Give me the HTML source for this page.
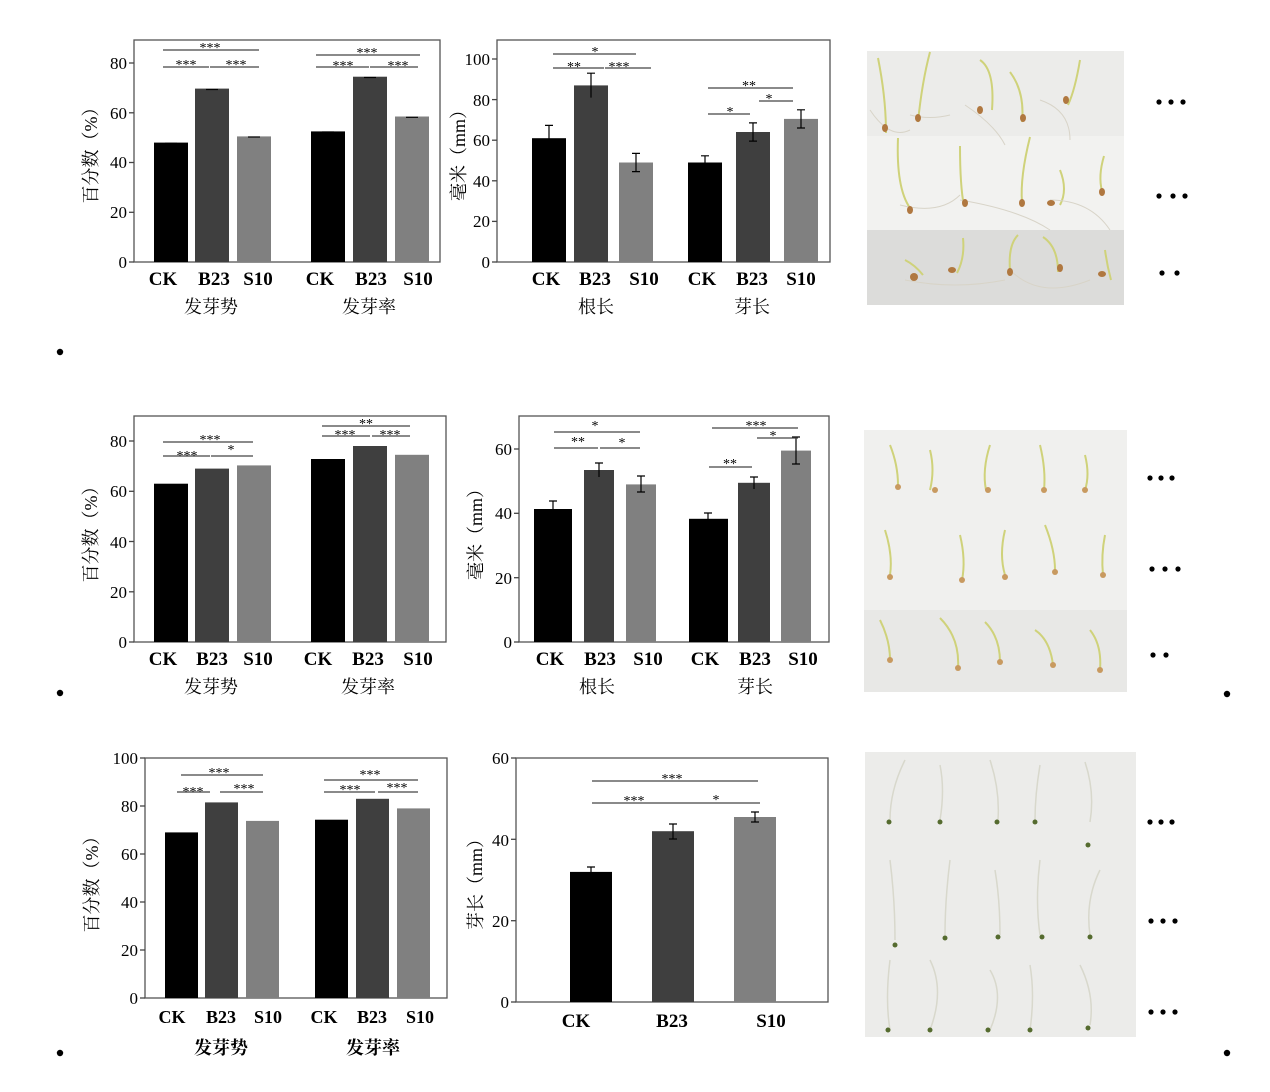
<!DOCTYPE html>
<html><head><meta charset="utf-8"><style>
html,body{margin:0;padding:0;background:#fff;}
svg{display:block}
text{font-family:"Liberation Serif","Noto Serif CJK SC",serif;fill:#000}
.t{font-size:17px;text-anchor:end}
.c{font-size:19px;font-weight:bold;text-anchor:middle}
.g{font-size:18px;text-anchor:middle}
.s{font-size:14px;text-anchor:middle}
.yl{font-size:18px;text-anchor:middle}
.ax{fill:none;stroke:#555;stroke-width:1.3}
.sig{stroke:#444;stroke-width:1.3}
.err{stroke:#000;stroke-width:1.2;fill:none}
.sd{stroke:#cfd27a;stroke-width:2;fill:none}
.rt{stroke:#d8d4c8;stroke-width:1;fill:none}
.dot{font-size:22px;font-family:"Liberation Sans",sans-serif;font-weight:bold}
</style></head><body>
<svg width="1270" height="1092" viewBox="0 0 1270 1092" xmlns="http://www.w3.org/2000/svg">

<!-- ===== Chart 1 ===== -->
<rect class="ax" x="134" y="40" width="306" height="222"/>
<g class="sig">
<line x1="134" y1="262" x2="129" y2="262"/><line x1="134" y1="212.3" x2="129" y2="212.3"/><line x1="134" y1="162.5" x2="129" y2="162.5"/><line x1="134" y1="112.8" x2="129" y2="112.8"/><line x1="134" y1="63" x2="129" y2="63"/>
</g>
<text class="t" x="127" y="268">0</text><text class="t" x="127" y="218">20</text><text class="t" x="127" y="168">40</text><text class="t" x="127" y="119">60</text><text class="t" x="127" y="69">80</text>
<rect x="154" y="142.6" width="34" height="119.4" fill="#000"/>
<rect x="195" y="88.6" width="34" height="173.4" fill="#3f3f3f"/>
<rect x="237" y="136.4" width="34" height="125.6" fill="#808080"/>
<rect x="311" y="131.4" width="34" height="130.6" fill="#000"/>
<rect x="353" y="76.7" width="34" height="185.3" fill="#3f3f3f"/>
<rect x="395" y="116.5" width="34" height="145.5" fill="#808080"/>
<g class="err"><line x1="206" y1="89.5" x2="218" y2="89.5"/><line x1="364" y1="77.5" x2="376" y2="77.5"/><line x1="406" y1="117.3" x2="418" y2="117.3"/><line x1="165" y1="143.3" x2="177" y2="143.3"/><line x1="248" y1="137" x2="260" y2="137"/><line x1="322" y1="132" x2="334" y2="132"/></g>
<g class="sig"><line x1="163" y1="50" x2="259" y2="50"/><line x1="163" y1="67" x2="209" y2="67"/><line x1="210" y1="67" x2="259" y2="67"/>
<line x1="316" y1="55" x2="420" y2="55"/><line x1="316" y1="67" x2="369" y2="67"/><line x1="370" y1="67" x2="418" y2="67"/></g>
<text class="s" x="210" y="52">***</text><text class="s" x="186" y="69">***</text><text class="s" x="236" y="69">***</text>
<text class="s" x="367" y="57">***</text><text class="s" x="343" y="70">***</text><text class="s" x="398" y="70">***</text>
<text class="c" x="163" y="285">CK</text><text class="c" x="214" y="285">B23</text><text class="c" x="258" y="285">S10</text>
<text class="c" x="320" y="285">CK</text><text class="c" x="371" y="285">B23</text><text class="c" x="418" y="285">S10</text>
<text class="g" x="211" y="313">发芽势</text><text class="g" x="369" y="313">发芽率</text>
<text class="yl" transform="translate(97,151) rotate(-90)">百分数（%）</text>

<!-- ===== Chart 2 ===== -->
<rect class="ax" x="497" y="40" width="333" height="222"/>
<g class="sig"><line x1="497" y1="262" x2="492" y2="262"/><line x1="497" y1="221.4" x2="492" y2="221.4"/><line x1="497" y1="180.8" x2="492" y2="180.8"/><line x1="497" y1="140.2" x2="492" y2="140.2"/><line x1="497" y1="99.6" x2="492" y2="99.6"/><line x1="497" y1="59" x2="492" y2="59"/></g>
<text class="t" x="490" y="268">0</text><text class="t" x="490" y="227">20</text><text class="t" x="490" y="187">40</text><text class="t" x="490" y="146">60</text><text class="t" x="490" y="106">80</text><text class="t" x="490" y="65">100</text>
<rect x="532" y="138.2" width="34" height="123.8" fill="#000"/>
<rect x="574" y="85.4" width="34" height="176.6" fill="#3f3f3f"/>
<rect x="619" y="162.5" width="34" height="99.5" fill="#808080"/>
<rect x="688" y="162.5" width="34" height="99.5" fill="#000"/>
<rect x="736" y="132" width="34" height="130" fill="#3f3f3f"/>
<rect x="784" y="118.9" width="34" height="143.1" fill="#808080"/>
<g class="err">
<path d="M549 125.4V151M545 125.4h8"/><path d="M591 73.2V97.6M587 73.2h8"/><path d="M636 153.4V171.6M632 153.4h8M632 171.6h8"/>
<path d="M705 155.8V162.5M701 155.8h8"/><path d="M753 122.9V141.1M749 122.9h8M749 141.1h8"/><path d="M801 109.8V128M797 109.8h8M797 128h8"/></g>
<g class="sig"><line x1="553" y1="54" x2="636" y2="54"/><line x1="553" y1="68" x2="604" y2="68"/><line x1="605" y1="68" x2="651" y2="68"/>
<line x1="708" y1="88" x2="793" y2="88"/><line x1="759" y1="101" x2="793" y2="101"/><line x1="708" y1="114" x2="750" y2="114"/></g>
<text class="s" x="595" y="56">*</text><text class="s" x="574" y="71">**</text><text class="s" x="619" y="71">***</text>
<text class="s" x="749" y="90">**</text><text class="s" x="769" y="103">*</text><text class="s" x="730" y="116">*</text>
<text class="c" x="546" y="285">CK</text><text class="c" x="595" y="285">B23</text><text class="c" x="644" y="285">S10</text>
<text class="c" x="702" y="285">CK</text><text class="c" x="752" y="285">B23</text><text class="c" x="801" y="285">S10</text>
<text class="g" x="596" y="313">根长</text><text class="g" x="752" y="313">芽长</text>
<text class="yl" transform="translate(465,151) rotate(-90)">毫米（mm）</text>

<!-- ===== Chart 3 ===== -->
<rect class="ax" x="134" y="416" width="312" height="226"/>
<g class="sig"><line x1="134" y1="642" x2="129" y2="642"/><line x1="134" y1="591.8" x2="129" y2="591.8"/><line x1="134" y1="541.5" x2="129" y2="541.5"/><line x1="134" y1="491.3" x2="129" y2="491.3"/><line x1="134" y1="441" x2="129" y2="441"/></g>
<text class="t" x="127" y="648">0</text><text class="t" x="127" y="598">20</text><text class="t" x="127" y="548">40</text><text class="t" x="127" y="497">60</text><text class="t" x="127" y="447">80</text>
<rect x="154" y="483.7" width="34" height="158.3" fill="#000"/>
<rect x="195" y="468.6" width="34" height="173.4" fill="#3f3f3f"/>
<rect x="237" y="465.4" width="34" height="176.6" fill="#808080"/>
<rect x="311" y="459" width="34" height="183" fill="#000"/>
<rect x="353" y="446" width="34" height="196" fill="#3f3f3f"/>
<rect x="395" y="454.8" width="34" height="187.2" fill="#808080"/>
<g class="sig"><line x1="163" y1="442" x2="253" y2="442"/><line x1="163" y1="456" x2="210" y2="456"/><line x1="211" y1="456" x2="253" y2="456"/>
<line x1="322" y1="426" x2="410" y2="426"/><line x1="322" y1="436" x2="370" y2="436"/><line x1="372" y1="436" x2="410" y2="436"/></g>
<text class="s" x="210" y="444">***</text><text class="s" x="187" y="460">***</text><text class="s" x="231" y="454">*</text>
<text class="s" x="366" y="428">**</text><text class="s" x="345" y="439">***</text><text class="s" x="390" y="439">***</text>
<text class="c" x="163" y="665">CK</text><text class="c" x="212" y="665">B23</text><text class="c" x="258" y="665">S10</text>
<text class="c" x="318" y="665">CK</text><text class="c" x="368" y="665">B23</text><text class="c" x="418" y="665">S10</text>
<text class="g" x="211" y="693">发芽势</text><text class="g" x="368" y="693">发芽率</text>
<text class="yl" transform="translate(97,530) rotate(-90)">百分数（%）</text>

<!-- ===== Chart 4 ===== -->
<rect class="ax" x="519" y="416" width="310" height="226"/>
<g class="sig"><line x1="519" y1="642" x2="514" y2="642"/><line x1="519" y1="577.7" x2="514" y2="577.7"/><line x1="519" y1="513.3" x2="514" y2="513.3"/><line x1="519" y1="449" x2="514" y2="449"/></g>
<text class="t" x="512" y="648">0</text><text class="t" x="512" y="584">20</text><text class="t" x="512" y="519">40</text><text class="t" x="512" y="455">60</text>
<rect x="534" y="509" width="38" height="133" fill="#000"/>
<rect x="584" y="470" width="30" height="172" fill="#3f3f3f"/>
<rect x="626" y="484.4" width="30" height="157.6" fill="#808080"/>
<rect x="689" y="518.8" width="39" height="123.2" fill="#000"/>
<rect x="738" y="482.8" width="32" height="159.2" fill="#3f3f3f"/>
<rect x="781" y="450.6" width="30" height="191.4" fill="#808080"/>
<g class="err"><path d="M553 501V517M549 501h8"/><path d="M599 463V477M595 463h8"/><path d="M641 476V492M637 476h8M637 492h8"/><path d="M708 513V525M704 513h8"/><path d="M754 477V489M750 477h8"/><path d="M796 437V464M792 437h8M792 464h8"/></g>
<g class="sig"><line x1="554" y1="432" x2="640" y2="432"/><line x1="554" y1="448" x2="598" y2="448"/><line x1="600" y1="448" x2="640" y2="448"/>
<line x1="712" y1="428" x2="798" y2="428"/><line x1="757" y1="438" x2="798" y2="438"/><line x1="709" y1="467" x2="752" y2="467"/></g>
<text class="s" x="595" y="430">*</text><text class="s" x="578" y="446">**</text><text class="s" x="622" y="447">*</text>
<text class="s" x="756" y="430">***</text><text class="s" x="773" y="440">*</text><text class="s" x="730" y="468">**</text>
<text class="c" x="550" y="665">CK</text><text class="c" x="600" y="665">B23</text><text class="c" x="648" y="665">S10</text>
<text class="c" x="705" y="665">CK</text><text class="c" x="755" y="665">B23</text><text class="c" x="803" y="665">S10</text>
<text class="g" x="597" y="693">根长</text><text class="g" x="755" y="693">芽长</text>
<text class="yl" transform="translate(482,530) rotate(-90)">毫米（mm）</text>

<!-- ===== Chart 5 ===== -->
<rect class="ax" x="145" y="758" width="302" height="240"/>
<g class="sig"><line x1="145" y1="998" x2="140" y2="998"/><line x1="145" y1="950" x2="140" y2="950"/><line x1="145" y1="902" x2="140" y2="902"/><line x1="145" y1="854" x2="140" y2="854"/><line x1="145" y1="806" x2="140" y2="806"/><line x1="145" y1="758" x2="140" y2="758"/></g>
<text class="t" x="138" y="1004">0</text><text class="t" x="138" y="956">20</text><text class="t" x="138" y="908">40</text><text class="t" x="138" y="860">60</text><text class="t" x="138" y="812">80</text><text class="t" x="138" y="764">100</text>
<rect x="165" y="832.4" width="33" height="165.6" fill="#000"/>
<rect x="205" y="802.4" width="33" height="195.6" fill="#3f3f3f"/>
<rect x="246" y="820.9" width="33" height="177.1" fill="#808080"/>
<rect x="315" y="819.7" width="33" height="178.3" fill="#000"/>
<rect x="356" y="798.8" width="33" height="199.2" fill="#3f3f3f"/>
<rect x="397" y="808.4" width="33" height="189.6" fill="#808080"/>
<g class="sig"><line x1="181" y1="775" x2="263" y2="775"/><line x1="177" y1="792" x2="210" y2="792"/><line x1="220" y1="792" x2="263" y2="792"/>
<line x1="324" y1="780" x2="418" y2="780"/><line x1="324" y1="792" x2="375" y2="792"/><line x1="378" y1="792" x2="418" y2="792"/></g>
<text class="s" x="219" y="777">***</text><text class="s" x="193" y="796">***</text><text class="s" x="244" y="793">***</text>
<text class="s" x="370" y="779">***</text><text class="s" x="350" y="794">***</text><text class="s" x="397" y="792">***</text>
<text class="c" x="172" y="1023" style="font-size:18px">CK</text><text class="c" x="221" y="1023" style="font-size:18px">B23</text><text class="c" x="268" y="1023" style="font-size:18px">S10</text>
<text class="c" x="324" y="1023" style="font-size:18px">CK</text><text class="c" x="372" y="1023" style="font-size:18px">B23</text><text class="c" x="420" y="1023" style="font-size:18px">S10</text>
<text class="g" x="221" y="1054" style="font-weight:bold">发芽势</text><text class="g" x="373" y="1054" style="font-weight:bold">发芽率</text>
<text class="yl" transform="translate(98,880) rotate(-90)">百分数（%）</text>

<!-- ===== Chart 6 ===== -->
<rect class="ax" x="516" y="758" width="312" height="244"/>
<g class="sig"><line x1="516" y1="1002" x2="511" y2="1002"/><line x1="516" y1="920.7" x2="511" y2="920.7"/><line x1="516" y1="839.3" x2="511" y2="839.3"/><line x1="516" y1="758" x2="511" y2="758"/></g>
<text class="t" x="509" y="1008">0</text><text class="t" x="509" y="927">20</text><text class="t" x="509" y="846">40</text><text class="t" x="509" y="764">60</text>
<rect x="570" y="871.9" width="42" height="130.1" fill="#000"/>
<rect x="652" y="831.2" width="42" height="170.8" fill="#3f3f3f"/>
<rect x="734" y="817" width="42" height="185" fill="#808080"/>
<g class="err"><path d="M591 867V874M587 867h8"/><path d="M673 824V839M669 824h8M669 839h8"/><path d="M755 812V822M751 812h8M751 822h8"/></g>
<g class="sig"><line x1="592" y1="781" x2="758" y2="781"/><line x1="592" y1="803" x2="674" y2="803"/><line x1="674" y1="803" x2="760" y2="803"/></g>
<text class="s" x="672" y="783">***</text><text class="s" x="634" y="805">***</text><text class="s" x="716" y="804">*</text>
<text class="c" x="576" y="1027">CK</text><text class="c" x="672" y="1027">B23</text><text class="c" x="771" y="1027">S10</text>
<text class="yl" transform="translate(482,880) rotate(-90)">芽长（mm）</text>

<!-- ===== Photos ===== -->
<rect x="867" y="51" width="257" height="85" fill="#ececea"/>
<rect x="867" y="136" width="257" height="94" fill="#f2f2f0"/>
<rect x="867" y="230" width="257" height="75" fill="#dcdcda"/>
<g class="sd">
<path d="M878 58q8 40 8 75"/><path d="M930 52q-8 30-12 70"/><path d="M980 60q15 10 12 50"/><path d="M1010 72q15 20 12 50"/><path d="M1080 60q-5 30-12 45"/>
<path d="M898 138q-2 50 12 70"/><path d="M960 146q0 40 4 60"/><path d="M1030 137q-10 40-8 65"/><path d="M1060 170q8 20 0 35"/><path d="M1104 156q-6 20-2 35"/>
<path d="M905 260q10 5 18 15"/><path d="M963 238q2 20-6 35"/><path d="M1018 235q-10 10-8 35"/><path d="M1043 237q15 10 15 35"/><path d="M1105 250q2 15 6 30"/></g>
<g class="rt"><path d="M870 110q20 30 40 20M910 115q20 5 40 0M965 105q30 20 40 40M1040 100q30 10 30 40M900 205q40 10 60 -10M960 200q60 10 90 30M1050 200q40 0 60 30M905 280q50 10 100 0M1010 270q30 30 80 10"/></g>
<g fill="#b07840"><ellipse cx="885" cy="128" rx="3" ry="4"/><ellipse cx="918" cy="118" rx="3" ry="4"/><ellipse cx="980" cy="110" rx="3" ry="4"/><ellipse cx="1023" cy="118" rx="3" ry="4"/><ellipse cx="1066" cy="100" rx="3" ry="4"/>
<ellipse cx="910" cy="210" rx="3" ry="4"/><ellipse cx="965" cy="203" rx="3" ry="4"/><ellipse cx="1022" cy="203" rx="3" ry="4"/><ellipse cx="1051" cy="203" rx="4" ry="3"/><ellipse cx="1102" cy="192" rx="3" ry="4"/>
<ellipse cx="914" cy="277" rx="4" ry="4"/><ellipse cx="952" cy="270" rx="4" ry="3"/><ellipse cx="1010" cy="272" rx="3" ry="4"/><ellipse cx="1060" cy="268" rx="3" ry="4"/><ellipse cx="1102" cy="274" rx="4" ry="3"/></g>

<rect x="864" y="430" width="263" height="180" fill="#f0f0ee"/>
<rect x="864" y="610" width="263" height="82" fill="#e8e8e6"/>
<g class="sd">
<path d="M890 445q8 20 8 40"/><path d="M930 450q5 20 0 40"/><path d="M990 445q-8 25-4 45"/><path d="M1040 445q6 25 4 45"/><path d="M1085 455q5 20 0 35"/>
<path d="M885 530q8 25 5 45"/><path d="M960 535q6 25 2 45"/><path d="M1005 530q-6 25 0 45"/><path d="M1045 525q10 25 10 45"/><path d="M1105 535q-4 20-2 40"/>
<path d="M880 620q10 20 10 40"/><path d="M940 618q20 20 18 50"/><path d="M985 622q15 15 15 40"/><path d="M1035 630q15 10 18 35"/><path d="M1090 630q12 15 10 40"/></g>
<g fill="#c89a60"><circle cx="898" cy="487" r="3"/><circle cx="935" cy="490" r="3"/><circle cx="988" cy="490" r="3"/><circle cx="1044" cy="490" r="3"/><circle cx="1085" cy="490" r="3"/>
<circle cx="890" cy="577" r="3"/><circle cx="962" cy="580" r="3"/><circle cx="1005" cy="577" r="3"/><circle cx="1055" cy="572" r="3"/><circle cx="1103" cy="575" r="3"/>
<circle cx="890" cy="660" r="3"/><circle cx="958" cy="668" r="3"/><circle cx="1000" cy="662" r="3"/><circle cx="1053" cy="665" r="3"/><circle cx="1100" cy="670" r="3"/></g>

<rect x="865" y="752" width="271" height="285" fill="#ececea"/>
<g stroke="#d8d8cc" stroke-width="1.5" fill="none">
<path d="M905 760q-15 30-15 60"/><path d="M940 765q5 25 0 55"/><path d="M990 760q10 30 8 60"/><path d="M1040 765q-5 30-5 55"/><path d="M1085 762q10 30 5 60"/>
<path d="M890 860q5 40 5 80"/><path d="M950 860q-5 40-5 75"/><path d="M995 870q5 30 5 65"/><path d="M1040 860q-5 40 0 75"/><path d="M1100 870q-15 30-10 65"/>
<path d="M890 960q-5 40 0 70"/><path d="M930 960q15 30 0 70"/><path d="M990 970q15 25 0 60"/><path d="M1030 965q5 30 0 65"/><path d="M1080 965q15 30 10 60"/></g>
<g fill="#556b2f"><circle cx="889" cy="822" r="2.5"/><circle cx="940" cy="822" r="2.5"/><circle cx="997" cy="822" r="2.5"/><circle cx="1035" cy="822" r="2.5"/><circle cx="1088" cy="845" r="2.5"/>
<circle cx="895" cy="945" r="2.5"/><circle cx="945" cy="938" r="2.5"/><circle cx="998" cy="937" r="2.5"/><circle cx="1042" cy="937" r="2.5"/><circle cx="1090" cy="937" r="2.5"/>
<circle cx="888" cy="1030" r="2.5"/><circle cx="930" cy="1030" r="2.5"/><circle cx="988" cy="1030" r="2.5"/><circle cx="1030" cy="1030" r="2.5"/><circle cx="1088" cy="1028" r="2.5"/></g>

<!-- dots -->
<g fill="#000">
<circle cx="1159" cy="102" r="2.6"/><circle cx="1171" cy="102" r="2.6"/><circle cx="1183" cy="102" r="2.6"/>
<circle cx="1159" cy="196" r="2.6"/><circle cx="1173" cy="196" r="2.6"/><circle cx="1185" cy="196" r="2.6"/>
<circle cx="1162" cy="273" r="2.6"/><circle cx="1177" cy="273" r="2.6"/>
<circle cx="1150" cy="478" r="2.6"/><circle cx="1161" cy="478" r="2.6"/><circle cx="1172" cy="478" r="2.6"/>
<circle cx="1152" cy="569" r="2.6"/><circle cx="1165" cy="569" r="2.6"/><circle cx="1178" cy="569" r="2.6"/>
<circle cx="1153" cy="655" r="2.6"/><circle cx="1166" cy="655" r="2.6"/>
<circle cx="1150" cy="822" r="2.6"/><circle cx="1161" cy="822" r="2.6"/><circle cx="1172" cy="822" r="2.6"/>
<circle cx="1151" cy="921" r="2.6"/><circle cx="1163" cy="921" r="2.6"/><circle cx="1175" cy="921" r="2.6"/>
<circle cx="1151" cy="1012" r="2.6"/><circle cx="1163" cy="1012" r="2.6"/><circle cx="1175" cy="1012" r="2.6"/>
<circle cx="60" cy="352" r="3.2"/><circle cx="60" cy="693" r="3.2"/><circle cx="60" cy="1053" r="3.2"/>
<circle cx="1227" cy="694" r="3.2"/><circle cx="1227" cy="1053" r="3.2"/>
</g>
</svg>
</body></html>
